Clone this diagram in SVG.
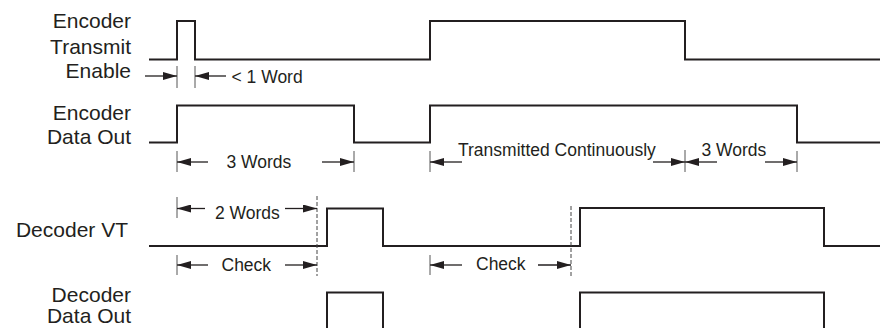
<svg xmlns="http://www.w3.org/2000/svg" width="886" height="328" viewBox="0 0 886 328">
<defs>
<style>
.lbl{font-family:"Liberation Sans",Arial,sans-serif;font-size:21px;fill:#231f20;text-anchor:end}
.dim{font-family:"Liberation Sans",Arial,sans-serif;font-size:17.5px;fill:#231f20}
.sig{fill:none;stroke:#231f20;stroke-width:2}
.tick{fill:none;stroke:#555;stroke-width:1}
.dash{fill:none;stroke:#444;stroke-width:1;stroke-dasharray:4 2}
.arr{fill:none;stroke:#231f20;stroke-width:1.3;marker-end:url(#ah)}
</style>
<marker id="ah" viewBox="0 0 14 8" refX="14" refY="4" markerWidth="14" markerHeight="8" markerUnits="userSpaceOnUse" orient="auto">
<path d="M0,0 L14,4 L0,8 Z" fill="#231f20"/>
</marker>
</defs>
<rect width="886" height="328" fill="#fff"/>
<g id="labels">
<text class="lbl" x="131" y="27.5">Encoder</text>
<text class="lbl" x="131" y="53.5">Transmit</text>
<text class="lbl" x="131" y="78">Enable</text>
<text class="lbl" x="131" y="119.5">Encoder</text>
<text class="lbl" x="131" y="143.5">Data Out</text>
<text class="lbl" x="128" y="237">Decoder VT</text>
<text class="lbl" x="131" y="302">Decoder</text>
<text class="lbl" x="131" y="323">Data Out</text>
</g>
<g id="signals">
<path id="enc-te" class="sig" d="M149,59.5 H177 V21 H195 V59.5 H430 V21 H685 V59.5 H880"/>
<path id="enc-do" class="sig" d="M149,142.5 H177 V105.5 H354 V142.5 H430 V105.5 H797 V142.5 H880"/>
<path id="dec-vt" class="sig" d="M149,246 H327 V208.5 H383 V246 H580 V208 H824 V246 H880"/>
<path id="dec-do" class="sig" d="M327,332 V292.5 H383 V332 M580,332 V292.5 H824 V332"/>
</g>
<g id="ticks">
<path class="tick" d="M177,66 V88 M195,66 V88"/>
<path class="tick" d="M177,151 V172 M354,151 V172 M430,151 V172 M685,150 V172 M797,151 V172"/>
<path class="tick" d="M177,197 V218 M177,255 V275 M430,255 V275"/>
<path class="dash" d="M317,196 V276 M571,206 V276"/>
</g>
<g id="connectors">
<line class="arr" x1="145" y1="76" x2="177" y2="76"/>
<line class="arr" x1="226" y1="76" x2="195" y2="76"/>
<line class="arr" x1="208" y1="162" x2="177" y2="162"/>
<line class="arr" x1="322" y1="162" x2="354" y2="162"/>
<line class="arr" x1="462" y1="162" x2="430" y2="162"/>
<line class="arr" x1="653" y1="162" x2="685" y2="162"/>
<line class="arr" x1="717" y1="162" x2="685" y2="162"/>
<line class="arr" x1="765" y1="162" x2="797" y2="162"/>
<line class="arr" x1="205" y1="208.5" x2="177" y2="208.5"/>
<line class="arr" x1="285" y1="208.5" x2="317" y2="208.5"/>
<line class="arr" x1="208" y1="265" x2="177" y2="265"/>
<line class="arr" x1="285" y1="265" x2="317" y2="265"/>
<line class="arr" x1="462" y1="265" x2="430" y2="265"/>
<line class="arr" x1="538" y1="265" x2="571" y2="265"/>
</g>
<g id="dim-labels">
<text class="dim" x="231.5" y="83">&lt; 1 Word</text>
<text class="dim" x="226.5" y="168">3 Words</text>
<text class="dim" x="458" y="155.5">Transmitted Continuously</text>
<text class="dim" x="701.5" y="155.5">3 Words</text>
<text class="dim" x="215" y="219">2 Words</text>
<text class="dim" x="221.5" y="271">Check</text>
<text class="dim" x="476" y="270">Check</text>
</g>
</svg>
